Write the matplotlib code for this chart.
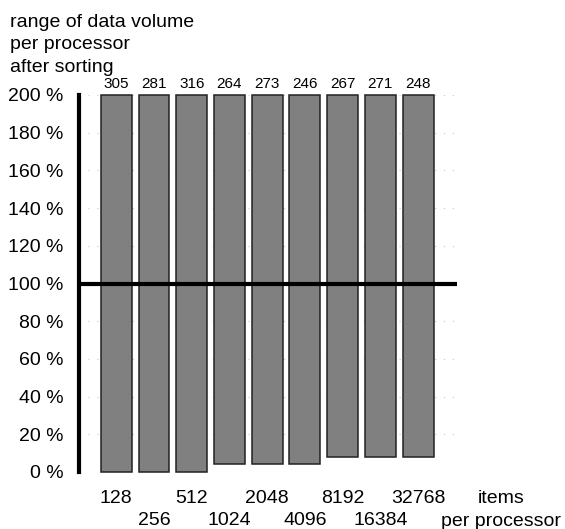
import matplotlib
matplotlib.use('Agg')
import matplotlib.pyplot as plt
import numpy as np

# Data
items = ['128', '256', '512', '1024', '2048', '4096', '8192', '16384', '32768']
range_low = [0, 0, 0, 4, 4, 4, 8, 8, 8]
range_high = [305, 281, 316, 264, 273, 246, 267, 271, 248]
yticks = [0, 20, 40, 60, 80, 100, 120, 140, 160, 180, 200]
ytick_labels = [f'{v} %' for v in yticks]
title_lines = ['range of data volume', 'per processor', 'after sorting']
xlabel_lines = ['items', 'per processor']

plt.rcParams['font.family'] = ['Liberation Sans', 'DejaVu Sans']

W, H = 565, 529
fig = plt.figure(figsize=(W / 100, H / 100), dpi=100)
ax = fig.add_axes([78.5 / W, 57 / H, (457 - 78.5) / W, 377 / H])

x = np.arange(len(items))
ymax = 200
ax.set_xlim(-1, 9.03)
ax.set_ylim(0, ymax)

low = np.array(range_low)
heights = np.minimum(np.array(range_high), ymax) - low
ax.bar(x, heights, bottom=low, width=0.82, color='#808080',
       edgecolor='#222222', linewidth=1.1, zorder=2, clip_on=False)

for xi, v in zip(x, range_high):
    ax.annotate(str(v), (xi, ymax), xytext=(0, 5), textcoords='offset points',
                ha='center', va='baseline', fontsize=11, annotation_clip=False)

ax.axhline(100, color='black', lw=3, zorder=3)

ax.yaxis.grid(True, color='#c8c8c8', linestyle=(0, (1, 7)), linewidth=0.8)
ax.set_axisbelow(True)

for s in ['top', 'right', 'bottom']:
    ax.spines[s].set_visible(False)
ax.spines['left'].set_linewidth(3)
ax.spines['left'].set_color('black')

ax.set_yticks(yticks, ytick_labels)
ax.tick_params(axis='y', length=0, pad=11, labelsize=14)

ax.set_xticks(x[::2], items[::2])
ax.set_xticks(x[1::2], items[1::2], minor=True)
ax.tick_params(axis='x', which='major', length=0, pad=13, labelsize=14)
ax.tick_params(axis='x', which='minor', length=0, pad=29, labelsize=14)

for i, t in enumerate(title_lines):
    fig.text(10 / W, 1 - (26.7 + 22.5 * i) / H, t, ha='left', va='baseline',
             fontsize=14)

fig.text(501 / W, 1 - 503 / H, xlabel_lines[0], ha='center', va='baseline', fontsize=14)
fig.text(501 / W, 1 - 526.5 / H, xlabel_lines[1], ha='center', va='baseline', fontsize=14)

fig.savefig('out.png', dpi=100)
